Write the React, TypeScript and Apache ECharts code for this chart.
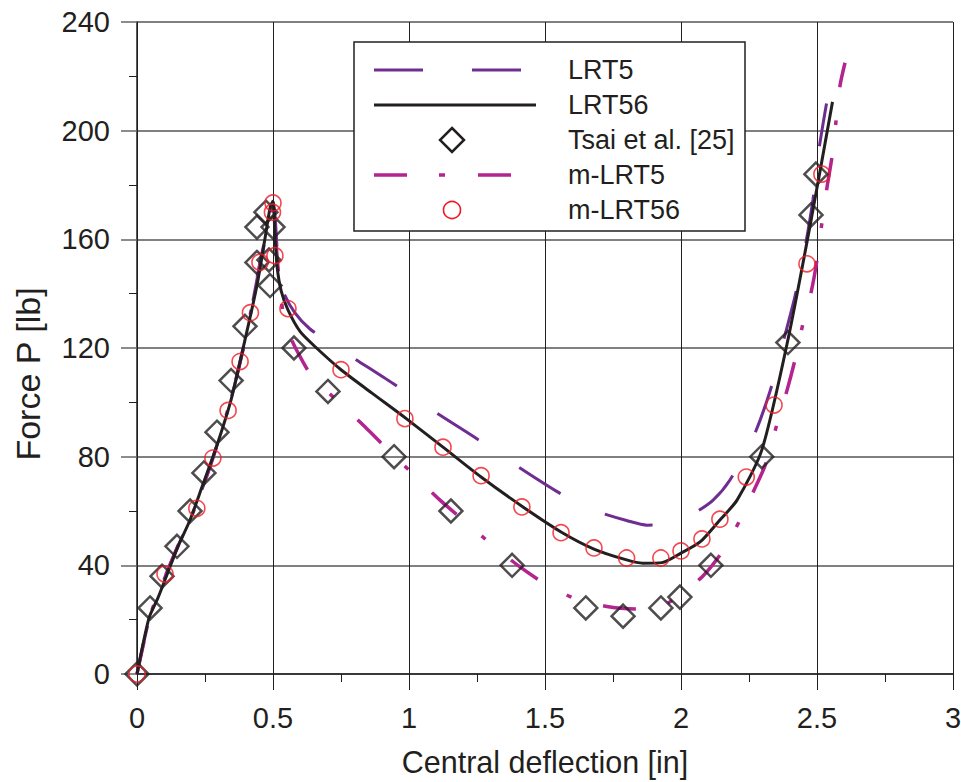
import React, { useEffect, useRef } from "react";
import * as echarts from "echarts";

// ---- data ----
const lrt5X = [0, 0.05, 0.1, 0.15, 0.2, 0.25, 0.3, 0.35, 0.4, 0.45, 0.48, 0.5, 0.508, 0.52, 0.537, 0.58, 0.636, 0.71, 0.79, 0.94, 1.09, 1.24, 1.39, 1.54, 1.63, 1.706, 1.8, 1.875, 1.92, 1.99, 2.05, 2.118, 2.18, 2.265, 2.327, 2.375, 2.419, 2.456, 2.485, 2.507, 2.535];
const lrt5Y = [0, 22, 35, 47, 58, 71, 86, 103, 124, 150, 165, 174, 168, 150, 141, 133, 127, 122, 116.7, 107, 96.8, 87.2, 77, 67.4, 62.5, 59.3, 56.5, 54.8, 55, 57, 59.3, 64, 71.4, 87, 104, 122, 139, 157, 174.5, 193, 210];

const lrt56X = [0, 0.044, 0.077, 0.15, 0.195, 0.243, 0.29, 0.346, 0.397, 0.441, 0.47, 0.49, 0.5, 0.507, 0.515, 0.53, 0.555, 0.6, 0.66, 0.75, 0.864, 0.99, 1.125, 1.265, 1.419, 1.559, 1.68, 1.8, 1.86, 1.93, 2.0, 2.07, 2.143, 2.206, 2.297, 2.393, 2.48, 2.557];
const lrt56Y = [0, 20.6, 28, 46.8, 56.7, 70, 83, 101, 123, 143, 160, 172, 174, 162, 150, 141, 134, 126, 120, 112, 103.4, 94, 83.5, 72.5, 61.5, 52.3, 46, 42, 40.8, 41, 44.5, 48.6, 56.7, 64, 82.4, 123, 168, 210.6];

const mlrt5X = [0, 0.05, 0.1, 0.15, 0.2, 0.25, 0.3, 0.35, 0.4, 0.45, 0.48, 0.5, 0.51, 0.52, 0.537, 0.56, 0.588, 0.647, 0.746, 0.838, 0.923, 1.015, 1.114, 1.199, 1.298, 1.408, 1.496, 1.614, 1.739, 1.857, 1.93, 1.98, 2.08, 2.154, 2.217, 2.27, 2.31, 2.353, 2.39, 2.419, 2.448, 2.48, 2.5, 2.518, 2.537, 2.555, 2.57, 2.585, 2.603];
const mlrt5Y = [0, 22, 35, 47, 58, 71, 86, 103, 124, 150, 164, 172, 160, 148, 133, 125, 119, 109, 99.8, 91, 82.5, 73.6, 64, 56.7, 48.2, 39.4, 33.5, 27.6, 24.7, 23.9, 25, 28, 36, 45.3, 56.7, 68, 77, 92, 104.5, 115.6, 128.8, 141.3, 152.4, 166, 179.3, 190.3, 203.6, 216.8, 225];

const tsaiX = [0, 0.048, 0.092, 0.147, 0.195, 0.246, 0.294, 0.346, 0.397, 0.441, 0.441, 0.474, 0.5, 0.485, 0.489, 0.577, 0.702, 0.945, 1.154, 1.379, 1.65, 1.787, 1.926, 1.996, 2.11, 2.297, 2.393, 2.478, 2.496];
const tsaiY = [0, 24.3, 36, 47, 60, 74, 89, 108, 128, 151.5, 164.5, 170, 164.5, 152.4, 143, 120, 104, 80, 60, 40, 24.3, 21.3, 24.3, 28.3, 40, 80, 122, 169, 184];

const mlrt56X = [0, 0.103, 0.22, 0.279, 0.335, 0.379, 0.417, 0.452, 0.5, 0.498, 0.507, 0.555, 0.75, 0.985, 1.125, 1.265, 1.415, 1.559, 1.68, 1.8, 1.926, 2.0, 2.077, 2.143, 2.24, 2.342, 2.463, 2.518];
const mlrt56Y = [0, 36.8, 61, 79.5, 97, 115, 133, 151.6, 173.4, 170, 154, 134.5, 112, 94, 83.5, 73, 61.5, 52, 46.4, 42.7, 42.7, 45.3, 49.7, 57, 72.5, 99, 151, 184];

const seriesNames = ["LRT5", "LRT56", "Tsai et al. [25]", "m-LRT5", "m-LRT56"];
const xAxisTitle = "Central deflection [in]";
const yAxisTitle = "Force P [lb]";
const xMin = 0, xMax = 3, xStep = 0.5;
const yMin = 0, yMax = 240, yStep = 40;

// ---- styles ----
const PURPLE = "#6F2C91";
const MAGENTA = "#B3248E";
const BLACK = "#231F20";
const RED = "#ED1C24";
const FONT = "'Liberation Sans', Arial, Helvetica, sans-serif";

const zip = (xs: number[], ys: number[]) => xs.map((x, i) => [x, ys[i]]);

export default function App() {
  const ref = useRef<HTMLDivElement>(null);

  useEffect(() => {
    if (!ref.current) return;
    const chart = echarts.init(ref.current, null, { renderer: "svg" });

    const legX1 = 374, legX2 = 530, legSymX = 452, legTextX = 568;
    const rows = [70, 105, 140, 175, 210];

    const option: any = {
      animation: false,
      backgroundColor: "#fff",
      textStyle: { fontFamily: FONT },
      grid: { left: 137, right: 8, top: 22, bottom: 108, outerBoundsMode: "none" },
      xAxis: {
        type: "value",
        min: xMin,
        max: xMax,
        interval: xStep,
        name: xAxisTitle,
        nameLocation: "middle",
        nameGap: 72,
        nameTextStyle: { fontSize: 30.5, color: BLACK, fontFamily: FONT },
        axisLine: { show: true, onZero: false, lineStyle: { color: BLACK, width: 1.5 } },
        axisTick: { show: true, length: 16, lineStyle: { color: BLACK, width: 1 } },
        minorTick: { show: true, splitNumber: 2, length: 8, lineStyle: { color: BLACK, width: 1 } },
        axisLabel: { fontSize: 29, color: BLACK, margin: 29, fontFamily: FONT },
        splitLine: { show: true, lineStyle: { color: BLACK, width: 1 } },
      },
      yAxis: {
        type: "value",
        min: yMin,
        max: yMax,
        interval: yStep,
        axisLine: { show: true, onZero: false, lineStyle: { color: BLACK, width: 1.5 } },
        axisTick: { show: true, length: 16, lineStyle: { color: "#666", width: 1.5 } },
        minorTick: { show: true, splitNumber: 2, length: 8, lineStyle: { color: BLACK, width: 1 } },
        axisLabel: { fontSize: 29, color: BLACK, margin: 27, fontFamily: FONT },
        splitLine: { show: true, lineStyle: { color: "#808080", width: 2 } },
      },
      series: [
        {
          name: seriesNames[0],
          type: "line",
          data: zip(lrt5X, lrt5Y),
          showSymbol: false,
          smooth: 0.25,
          lineStyle: { color: PURPLE, width: 3, type: [49, 49], cap: "butt" },
          z: 2,
        },
        {
          name: seriesNames[3],
          type: "line",
          data: zip(mlrt5X, mlrt5Y),
          showSymbol: false,
          smooth: 0.25,
          lineStyle: { color: MAGENTA, width: 3.5, type: [33, 33, 5, 33], cap: "butt" },
          z: 3,
        },
        {
          name: seriesNames[1],
          type: "line",
          data: zip(lrt56X, lrt56Y),
          showSymbol: false,
          smooth: 0.25,
          lineStyle: { color: BLACK, width: 3 },
          z: 4,
        },
        {
          name: seriesNames[2],
          type: "scatter",
          data: zip(tsaiX, tsaiY),
          symbol: "diamond",
          symbolSize: 23,
          itemStyle: { color: "rgba(0,0,0,0)", borderColor: BLACK, borderWidth: 2.5 },
          z: 5,
        },
        {
          name: seriesNames[4],
          type: "scatter",
          data: zip(mlrt56X, mlrt56Y),
          symbol: "circle",
          symbolSize: 16,
          itemStyle: { color: "rgba(0,0,0,0)", borderColor: RED, borderWidth: 1.6 },
          z: 6,
        },
      ],
      graphic: [
        {
          type: "text",
          z: 50,
          x: 28,
          y: 374,
          rotation: Math.PI / 2,
          style: {
            text: yAxisTitle,
            fontSize: 34,
            fontFamily: FONT,
            fill: BLACK,
            align: "center",
            verticalAlign: "middle",
          },
        },
        {
          type: "rect",
          z: 100,
          shape: { x: 354, y: 42, width: 391, height: 189 },
          style: { fill: "#fff", stroke: BLACK, lineWidth: 1.5 },
        },
        {
          type: "line",
          z: 101,
          shape: { x1: legX1, y1: rows[0], x2: legX2, y2: rows[0] },
          style: { stroke: PURPLE, lineWidth: 3, lineDash: [49, 49] },
        },
        {
          type: "line",
          z: 101,
          shape: { x1: legX1, y1: rows[1], x2: legX2 + 6, y2: rows[1] },
          style: { stroke: BLACK, lineWidth: 3 },
        },
        {
          type: "polygon",
          z: 101,
          shape: {
            points: [
              [legSymX, rows[2] - 12],
              [legSymX + 12, rows[2]],
              [legSymX, rows[2] + 12],
              [legSymX - 12, rows[2]],
            ],
          },
          style: { fill: "none", stroke: BLACK, lineWidth: 2.5 },
        },
        {
          type: "line",
          z: 101,
          shape: { x1: legX1, y1: rows[3], x2: 511, y2: rows[3] },
          style: { stroke: MAGENTA, lineWidth: 3.5, lineDash: [33, 32, 6, 33] },
        },
        {
          type: "circle",
          z: 101,
          shape: { cx: legSymX, cy: rows[4], r: 8.5 },
          style: { fill: "none", stroke: RED, lineWidth: 1.6 },
        },
        ...seriesNames.map((n, i) => ({
          type: "text",
          z: 101,
          x: legTextX,
          y: rows[i],
          style: {
            text: n,
            fontSize: 27,
            fontFamily: FONT,
            fill: BLACK,
            verticalAlign: "middle",
            align: "left",
          },
        })),
      ],
    };

    chart.setOption(option);
    return () => chart.dispose();
  }, []);

  return (
    <div
      ref={ref}
      style={{ position: "fixed", left: 0, top: 0, width: 961, height: 782, background: "#fff" }}
    />
  );
}
